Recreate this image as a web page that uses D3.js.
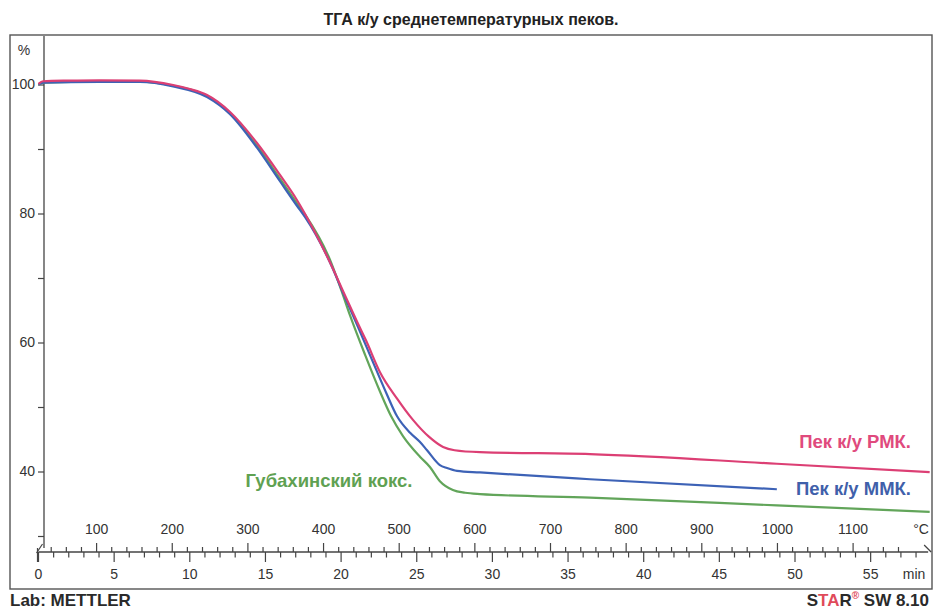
<!DOCTYPE html>
<html><head><meta charset="utf-8">
<script src="https://cdn.jsdelivr.net/npm/d3@7"></script>
<style>
html,body{margin:0;padding:0;background:#fff;}
svg{display:block;font-family:"Liberation Sans",Arial,sans-serif;}
</style></head>
<body><svg id="c" width="934" height="612"></svg>
<script>
// ---- data (time in min, mass in %) ----
const titleText = "ТГА к/у среднетемпературных пеков.";
const seriesNames = ["Губахинский кокс.", "Пек к/у ММК.", "Пек к/у РМК."];
const greenTime = [0, 0.3, 4, 6.7, 8.9, 11.14, 12.66, 14.44, 15.96, 17.08, 17.6, 19.27, 20.0, 20.59, 21.6, 22.57, 23.3, 24.09, 25.21, 25.87, 26.53, 27.39, 28.2, 29.18, 36.45, 48.8, 58.9];
const greenMass = [100.0, 100.3, 100.45, 100.45, 99.8, 98.2, 95.5, 90.5, 85.4, 81.6, 79.9, 72.8, 68.2, 64.2, 58.0, 52.4, 48.6, 45.5, 42.3, 40.7, 38.5, 37.13, 36.7, 36.5, 35.95, 34.75, 33.75];
const mmkTime = [0, 0.3, 4, 6.7, 8.9, 11.14, 12.66, 14.44, 15.96, 17.08, 17.6, 19.27, 20.2, 21.12, 22.1, 23.0, 23.69, 24.56, 25.2, 25.68, 26.53, 27.0, 27.66, 29.18, 36.45, 48.8];
const mmkMass = [100.0, 100.3, 100.4, 100.4, 99.7, 98.06, 95.4, 90.2, 85.0, 81.2, 79.5, 72.4, 67.3, 62.4, 57.0, 52.1, 48.6, 46.0, 44.6, 43.3, 41.0, 40.54, 40.1, 39.85, 38.8, 37.25];
const pmkTime = [0, 0.3, 2, 4, 6.7, 8.9, 10, 11.14, 12.66, 14.44, 15.96, 17.08, 17.6, 19.27, 20.2, 21.12, 21.65, 22.57, 23.7, 24.75, 25.8, 26.74, 27.5, 29.18, 36.45, 48.8, 58.9];
const pmkMass = [100.1, 100.5, 100.6, 100.65, 100.6, 99.92, 99.3, 98.37, 95.74, 90.93, 85.97, 82.09, 80.0, 72.4, 67.6, 62.9, 60.3, 55.4, 51.3, 48.0, 45.4, 43.8, 43.3, 43.0, 42.7, 41.2, 39.9];
const yTicks = [30, 40, 50, 60, 70, 80, 90, 100];
const yLabels = [40, 60, 80, 100];
const minLabels = [0, 5, 10, 15, 20, 25, 30, 35, 40, 45, 50, 55];
const tempLabels = [100, 200, 300, 400, 500, 600, 700, 800, 900, 1000, 1100];
const startTemp = 23.2, heatRate = 20, tMax = 58.8;

const colors = {green: "#62a55a", blue: "#3d62b6", pink: "#dc3f74"};
const labelColors = {green: "#5fa152", blue: "#3f60aa", pink: "#e04a7d"};
const axisColor = "#444";
const textColor = "#333";

const svg = d3.select("#c");

// frame
svg.append("rect").attr("x", 10).attr("y", 35).attr("width", 922).attr("height", 554)
  .attr("fill", "none").attr("stroke", "#555").attr("stroke-width", 1.4);

// title
svg.append("text").attr("x", 471).attr("y", 25).attr("text-anchor", "middle")
  .attr("font-size", 16).attr("font-weight", "bold").attr("fill", "#222").text(titleText);

// scales
const x = d3.scaleLinear().domain([0, tMax]).range([38.5, 38.5 + 15.13 * tMax]);
const xT = d3.scaleLinear().domain([startTemp, startTemp + heatRate * tMax]).range(x.range());
const y = d3.scaleLinear().domain([30, 100]).range([536, 84.5]);

// y axis
const yAxisX = 44;
svg.append("line").attr("x1", yAxisX).attr("x2", yAxisX).attr("y1", 36).attr("y2", 548)
  .attr("stroke", axisColor).attr("stroke-width", 1.3);
const yAx = d3.axisLeft(y).tickValues(yTicks).tickSize(6).tickPadding(3)
  .tickFormat(d => yLabels.includes(d) ? d : "");
const gy = svg.append("g").attr("transform", `translate(${yAxisX},0)`).call(yAx);
gy.select(".domain").remove();
gy.selectAll("line").attr("stroke", axisColor).attr("stroke-width", 1.2);
gy.selectAll("text").attr("font-size", 14).attr("fill", textColor)
  .attr("font-family", "Liberation Sans, Arial, sans-serif");
svg.append("text").attr("x", 24).attr("y", 55).attr("text-anchor", "middle")
  .attr("font-size", 14).attr("fill", textColor).text("%");

// time / temperature axis
const axY = 552;
svg.append("line").attr("x1", x(0)).attr("x2", x(tMax)).attr("y1", axY).attr("y2", axY)
  .attr("stroke", axisColor).attr("stroke-width", 1.3);
// minute ticks (down)
const minTicks = d3.range(0, 59, 1);
svg.append("g").selectAll("line").data(minTicks).join("line")
  .attr("x1", d => x(d)).attr("x2", d => x(d)).attr("y1", axY)
  .attr("y2", d => axY + (d % 5 === 0 ? 10 : 5.5))
  .attr("stroke", axisColor).attr("stroke-width", 1.2);
// temperature ticks (up)
const tTicks = d3.range(40, 1180, 20);
svg.append("g").selectAll("line").data(tTicks).join("line")
  .attr("x1", d => xT(d)).attr("x2", d => xT(d)).attr("y1", axY)
  .attr("y2", d => axY - (d % 100 === 0 ? 9 : 5))
  .attr("stroke", axisColor).attr("stroke-width", 1.2);
// end marks
svg.append("path").attr("d", `M${x(0)-2},${axY+1}L${x(0)+4},${axY-8}`).attr("stroke", axisColor).attr("stroke-width", 1.2).attr("fill", "none");
svg.append("path").attr("d", `M${x(tMax)-4},${axY-7}L${x(tMax)+3},${axY}`).attr("stroke", axisColor).attr("stroke-width", 1.2).attr("fill", "none");
svg.append("line").attr("x1", x(0)-1).attr("x2", x(0)-1).attr("y1", axY-4).attr("y2", axY+10).attr("stroke", axisColor).attr("stroke-width", 1.2);

svg.append("g").selectAll("text").data(minLabels).join("text")
  .attr("x", d => x(d)).attr("y", 579).attr("text-anchor", "middle")
  .attr("font-size", 14).attr("fill", textColor).text(d => d);
svg.append("text").attr("x", 914).attr("y", 579).attr("text-anchor", "middle")
  .attr("font-size", 14).attr("fill", textColor).text("min");
svg.append("g").selectAll("text").data(tempLabels).join("text")
  .attr("x", d => xT(d)).attr("y", 534).attr("text-anchor", "middle")
  .attr("font-size", 14).attr("fill", textColor).text(d => d);
svg.append("text").attr("x", 921).attr("y", 534).attr("text-anchor", "middle")
  .attr("font-size", 14).attr("fill", textColor).text("°C");

// curves
const line = d3.line().x(d => x(d[0])).y(d => y(d[1])).curve(d3.curveMonotoneX);
const series = [
  {t: greenTime, m: greenMass, c: colors.green},
  {t: mmkTime, m: mmkMass, c: colors.blue},
  {t: pmkTime, m: pmkMass, c: colors.pink}
];
series.forEach(s => {
  svg.append("path").datum(s.t.map((t, i) => [t, s.m[i]]))
    .attr("d", line).attr("fill", "none").attr("stroke", s.c)
    .attr("stroke-width", 2.2).attr("stroke-linejoin", "round");
});

// series labels
svg.append("text").attr("x", 329).attr("y", 487).attr("text-anchor", "middle")
  .attr("font-size", 18.5).attr("font-weight", "bold").attr("fill", labelColors.green).text(seriesNames[0]);
svg.append("text").attr("x", 911).attr("y", 495).attr("text-anchor", "end")
  .attr("font-size", 18.5).attr("font-weight", "bold").attr("fill", labelColors.blue).text(seriesNames[1]);
svg.append("text").attr("x", 911).attr("y", 448).attr("text-anchor", "end")
  .attr("font-size", 18.5).attr("font-weight", "bold").attr("fill", labelColors.pink).text(seriesNames[2]);

// footer
svg.append("text").attr("x", 10).attr("y", 606).attr("font-size", 17).attr("font-weight", "bold")
  .attr("fill", "#2a2a2a").text("Lab: METTLER");
const st = svg.append("text").attr("x", 929).attr("y", 606).attr("text-anchor", "end")
  .attr("font-size", 17).attr("font-weight", "bold").attr("fill", "#2a2a2a");
st.append("tspan").text("S");
st.append("tspan").attr("fill", "#e04a5a").text("TA");
st.append("tspan").text("R");
st.append("tspan").attr("fill", "#e04a5a").attr("font-size", 10).attr("dy", -7).text("®");
st.append("tspan").attr("dy", 7).text(" SW 8.10");
</script></body></html>
